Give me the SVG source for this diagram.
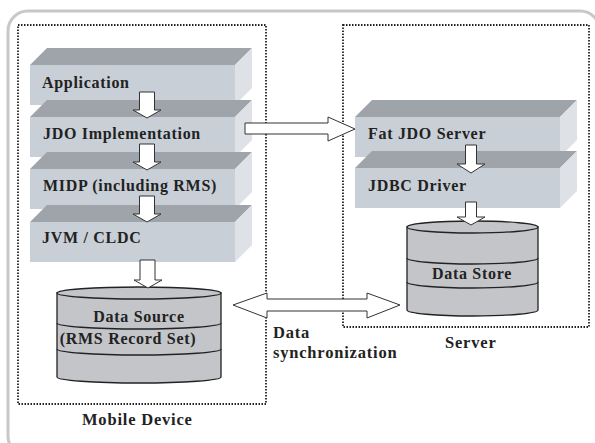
<svg xmlns="http://www.w3.org/2000/svg" width="595" height="443" viewBox="0 0 595 443">
<style>
  .lbl { font-family: "Liberation Serif", "Times New Roman", serif; font-weight: bold; font-size: 16px; fill: #222; letter-spacing: 0.7px; }
  .big { font-size: 16.5px; letter-spacing: 0.8px; }
  .top { fill: #9ea4aa; }
  .front { fill: #c9cfd6; }
  .side { fill: #dee1e5; }
  .box { fill: none; stroke: #222; stroke-width: 1.8; stroke-dasharray: 1.5 1.5; }
  .arrow { fill: #fff; stroke: #333; stroke-width: 1; }
  .cyl { fill: #c3c5c9; stroke: #222; stroke-width: 1.3; }
  .band { fill: none; stroke: #222; stroke-width: 1.3; }
</style>
<defs>
  <g id="block">
    <polygon class="top" points="0,0 17,-17 222,-17 205,0"/>
    <polygon class="side" points="205,0 222,-17 222,23 205,40"/>
    <rect class="front" x="0" y="0" width="205" height="40"/>
  </g>
</defs>
<rect x="8" y="11" width="592" height="445" rx="20" fill="#fff" stroke="#c8c8c8" stroke-width="3"/>

<g id="mobile-device">
  <rect class="box" x="18" y="25" width="248" height="379"/>
  <text class="lbl big" x="82" y="425">Mobile Device</text>
</g>
<g id="server">
  <rect class="box" x="343" y="25" width="246" height="302"/>
  <text class="lbl big" x="445" y="348">Server</text>
</g>

<g id="application">
  <use href="#block" x="30" y="65"/>
  <text class="lbl" x="42" y="88">Application</text>
</g>
<g id="jdo-implementation">
  <use href="#block" x="30" y="117"/>
  <text class="lbl" x="43" y="139">JDO Implementation</text>
</g>
<g id="midp">
  <use href="#block" x="30" y="169"/>
  <text class="lbl" x="43" y="191">MIDP (including RMS)</text>
</g>
<g id="jvm-cldc">
  <use href="#block" x="30" y="222"/>
  <text class="lbl" x="42" y="243">JVM / CLDC</text>
</g>
<g id="fat-jdo-server">
  <use href="#block" x="355" y="117"/>
  <text class="lbl" x="368" y="139">Fat JDO Server</text>
</g>
<g id="jdbc-driver">
  <use href="#block" x="355" y="168"/>
  <text class="lbl" x="368" y="191">JDBC Driver</text>
</g>

<g id="data-source">
  <path class="cyl" d="M57,293 L57,377 A82,6 0 0 0 221,377 L221,293 Z"/>
  <ellipse class="cyl" cx="139" cy="293" rx="82" ry="6"/>
  <path class="band" d="M57,323 A82,6 0 0 0 221,323 M57,349 A82,6 0 0 0 221,349"/>
  <text class="lbl" x="139" y="322" text-anchor="middle">Data Source</text>
  <text class="lbl" x="128" y="344" text-anchor="middle">(RMS Record Set)</text>
</g>
<g id="data-store">
  <path class="cyl" d="M407,227 L407,310 A65.5,6 0 0 0 538,310 L538,227 Z"/>
  <ellipse class="cyl" cx="472.5" cy="227" rx="65.5" ry="6"/>
  <path class="band" d="M407,258 A65.5,6 0 0 0 538,258 M407,282 A65.5,6 0 0 0 538,282"/>
  <text class="lbl" x="472" y="279" text-anchor="middle">Data Store</text>
</g>

<g id="connectors">
  <polygon class="arrow" points="139.5,92 154.5,92 154.5,110 161,110 147,118 133,110 139.5,110"/>
  <polygon class="arrow" points="139.5,144 154.5,144 154.5,162 161,162 147,170 133,162 139.5,162"/>
  <polygon class="arrow" points="139.5,196 154.5,196 154.5,214 161,214 147,222 133,214 139.5,214"/>
  <polygon class="arrow" points="140,260 155,260 155,280 162,280 148,288 134,280 140,280"/>
  <polygon class="arrow" points="465.5,145 476.5,145 476.5,164 485,164 471,173 457,164 465.5,164"/>
  <polygon class="arrow" points="465.5,202 476.5,202 476.5,217 485,217 471,225 457,217 465.5,217"/>
  <polygon class="arrow" points="245,123 328,123 328,117 355,129 328,141 328,134 245,134"/>
  <polygon class="arrow" points="233,305 267,293 267,299 367,299 367,293 400,305 367,318 367,311 267,311 267,318" stroke="#444"/>
  <text class="lbl big" x="273" y="338">Data</text>
  <text class="lbl big" x="273" y="358">synchronization</text>
</g>
</svg>
